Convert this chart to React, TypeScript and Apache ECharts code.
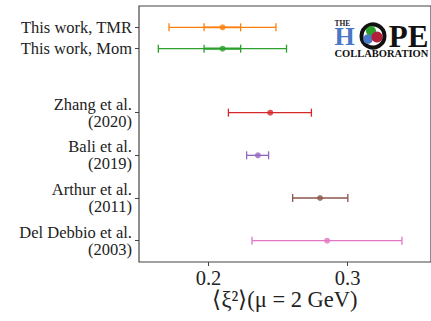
import React, { useEffect, useRef } from "react";
import * as echarts from "echarts";

const labels = [
  "This work, TMR",
  "This work, Mom",
  "Zhang et al.\n(2020)",
  "Bali et al.\n(2019)",
  "Arthur et al.\n(2011)",
  "Del Debbio et al.\n(2003)",
];
const positions = [5, 4.5, 3, 2, 1, 0];
const centers = [0.2101, 0.2101, 0.2444, 0.2355, 0.2802, 0.2853];
const totalLo = [0.1716, 0.1639, 0.2143, 0.2274, 0.2605, 0.2313];
const totalHi = [0.2485, 0.2561, 0.274, 0.2432, 0.3002, 0.3391];
const statLo = [0.1968, 0.1968];
const statHi = [0.2231, 0.2231];
const colors = ["#ff7f0e", "#2ca02c", "#d62728", "#9467bd", "#8c564b", "#e377c2"];
const xTicks = [0.2, 0.3];
const xName = "⟨ξ²⟩(μ = 2 GeV)";

const SERIF = "Liberation Serif";

export default function App() {
  const ref = useRef<HTMLDivElement>(null);
  useEffect(() => {
    if (!ref.current) return;
    const chart = echarts.init(ref.current, undefined, { renderer: "svg" });

    const barData: any[] = [];
    positions.forEach((p, i) => {
      barData.push({ value: [p, totalLo[i], totalHi[i], 1.3], itemStyle: { color: colors[i] } });
    });
    statLo.forEach((lo, i) => {
      barData.push({ value: [positions[i], lo, statHi[i], i === 1 ? 2.4 : 1.6], itemStyle: { color: colors[i] } });
    });

    const renderItem = (params: any, api: any) => {
      const y = api.value(0);
      const lo = api.coord([api.value(1), y]);
      const hi = api.coord([api.value(2), y]);
      const w = api.value(3);
      const color = api.visual("color");
      const h = 4;
      const st = { stroke: color, lineWidth: w };
      return {
        type: "group",
        children: [
          { type: "line", shape: { x1: lo[0], y1: lo[1], x2: hi[0], y2: hi[1] }, style: st },
          { type: "line", shape: { x1: lo[0], y1: lo[1] - h, x2: lo[0], y2: lo[1] + h }, style: { stroke: color, lineWidth: 1.3 } },
          { type: "line", shape: { x1: hi[0], y1: hi[1] - h, x2: hi[0], y2: hi[1] + h }, style: { stroke: color, lineWidth: 1.3 } },
        ],
      };
    };

    const labelMap: Record<string, string> = {};
    positions.forEach((p, i) => (labelMap[String(p)] = labels[i]));

    const axisColor = "#444";

    chart.setOption({
      animation: false,
      textStyle: { fontFamily: SERIF },
      grid: {
        left: 139,
        right: -13,
        top: 6,
        bottom: 59,
        show: true,
        borderColor: axisColor,
        borderWidth: 1.2,
        backgroundColor: "transparent",
      },
      xAxis: {
        type: "value",
        min: 0.15,
        max: 0.36,
        axisLine: { show: false, onZero: false },
        axisTick: { show: true, length: 4, customValues: xTicks, lineStyle: { color: axisColor } },
        splitLine: { show: false },
        axisLabel: {
          customValues: xTicks,
          formatter: (v: number) => v.toFixed(1),
          fontFamily: SERIF,
          fontSize: 20.5,
          color: "#222",
          margin: 5,
        },
        name: xName,
        nameLocation: "middle",
        nameGap: 26,
        nameMoveOverlap: false,
        nameTextStyle: { fontFamily: SERIF, fontSize: 22.5, color: "#222", verticalAlign: "top" },
      },
      yAxis: {
        type: "value",
        min: -0.5,
        max: 5.5,
        axisLine: { show: false, onZero: false },
        axisTick: { show: true, length: 4, customValues: positions, lineStyle: { color: axisColor } },
        splitLine: { show: false },
        axisLabel: {
          customValues: positions,
          formatter: (v: number) => labelMap[String(v)] ?? "",
          fontFamily: SERIF,
          fontSize: 16.5,
          lineHeight: 17,
          color: "#222",
          align: "right",
          margin: 7,
        },
      },
      graphic: [
        { type: "circle", shape: { cx: 373, cy: 36, r: 11.5 }, style: { fill: "none", stroke: "#111", lineWidth: 4 } },
        { type: "circle", shape: { cx: 371, cy: 31, r: 5 }, style: { fill: "#2ca02c" } },
        { type: "circle", shape: { cx: 368, cy: 39, r: 4.8 }, style: { fill: "#4a78c4" } },
        { type: "circle", shape: { cx: 377, cy: 37, r: 5.6 }, style: { fill: "#b0203a" } },
        {
          type: "text",
          x: 334.5,
          y: 19.5,
          style: {
            text: "{the|THE}\n{h|H}{gap| }{pe|PE}\n{col|COLLABORATION}",
            fontFamily: SERIF,
            fill: "#111",
            rich: {
              the: { fontFamily: SERIF, fontWeight: "bold", fontSize: 7.5, lineHeight: 7, fill: "#222" },
              h: { fontFamily: SERIF, fontWeight: "bold", fontSize: 26, lineHeight: 20, fill: "#4a78c4" },
              gap: { fontSize: 10, width: 34, lineHeight: 20 },
              pe: { fontFamily: SERIF, fontWeight: "bold", fontSize: 31, lineHeight: 20, fill: "#111" },
              col: { fontFamily: SERIF, fontWeight: "bold", fontSize: 10.5, lineHeight: 13, fill: "#111" },
            },
          },
        },
      ],
      series: [
        {
          type: "custom",
          renderItem,
          encode: { x: [1, 2], y: 0 },
          data: barData,
          z: 2,
        },
        {
          type: "scatter",
          symbolSize: 6,
          data: positions.map((p, i) => ({ value: [centers[i], p], itemStyle: { color: colors[i] } })),
          z: 3,
        },
      ],
    });
    return () => chart.dispose();
  }, []);
  return <div ref={ref} style={{ width: 431, height: 321, position: "absolute", left: 0, top: 0 }} />;
}
